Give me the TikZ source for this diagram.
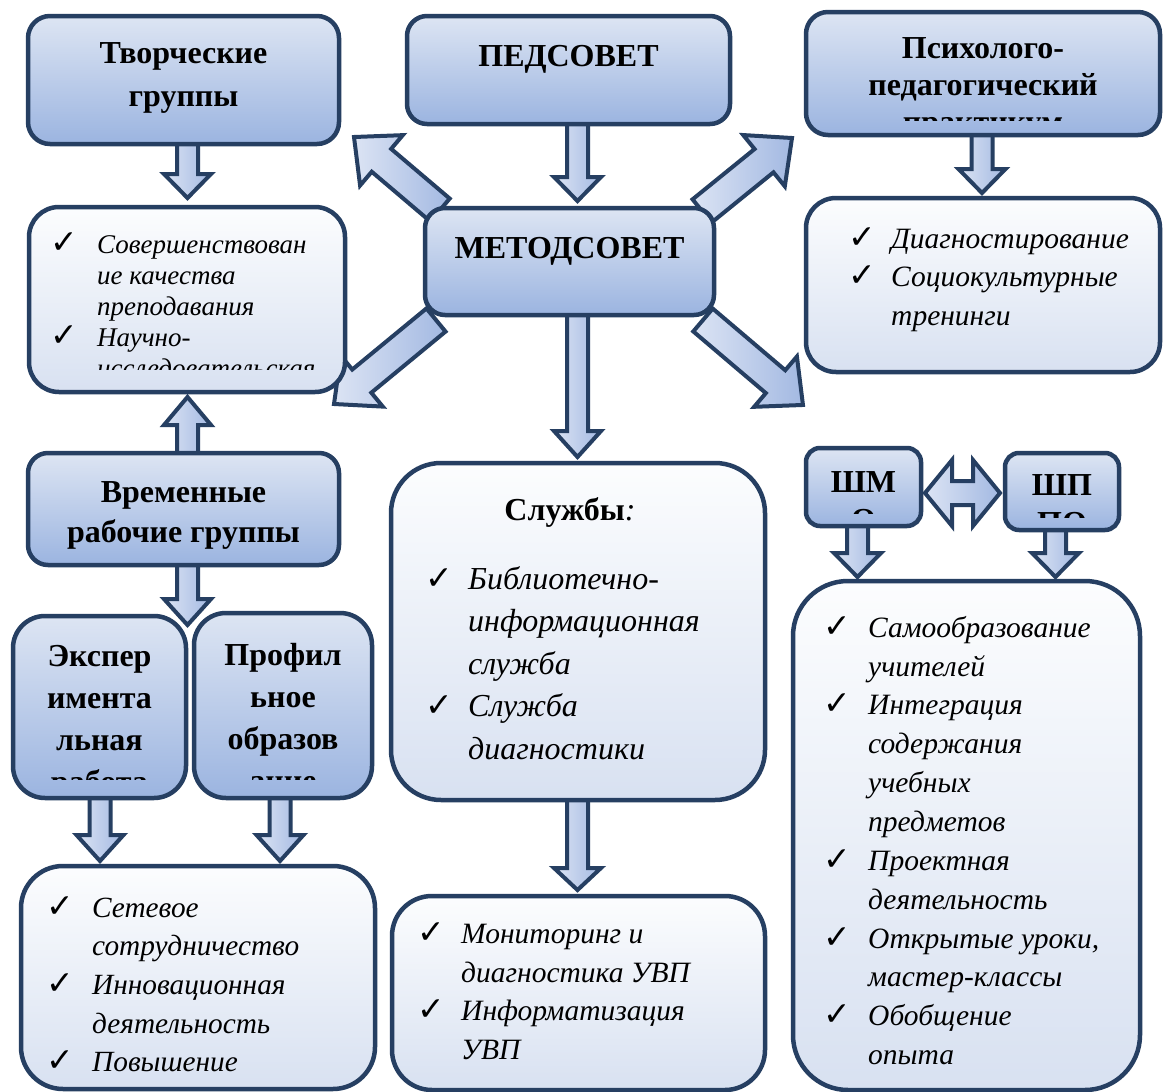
\documentclass[tikz,border=0pt]{standalone}
\usepackage{fontspec}
\setmainfont{Liberation Serif}
\newfontfamily\chkfont{DejaVu Sans}
\usetikzlibrary{calc}
\pgfdeclarelayer{bg}
\pgfsetlayers{bg,main}
\definecolor{bord}{HTML}{263F62}
\definecolor{htop}{HTML}{DDE5F3}
\definecolor{hbot}{HTML}{9BB4E0}
\definecolor{ltop}{HTML}{FCFDFE}
\definecolor{lbot}{HTML}{D8E1F1}
\definecolor{atop}{HTML}{DCE4F4}
\definecolor{abot}{HTML}{A3B9E2}
\tikzset{
 boxbase/.style={draw=bord, line width=4.5pt, inner sep=0pt, outer sep=0pt, rectangle},
 hdrbox/.style={boxbase, top color=htop, bottom color=hbot, rounded corners=#1},
 hdrbox/.default=20pt,
 lstbox/.style={boxbase, top color=ltop, bottom color=lbot, rounded corners=#1},
 lstbox/.default=30pt,
 blockarrow/.style={draw=bord, line width=4pt, left color=atop, right color=abot, line join=miter},
 htext/.style={font=\bfseries\fontsize{32}{#1}\selectfont, align=center, anchor=north, inner sep=0pt},
 ltext/.style 2 args={font=\itshape\fontsize{#1}{#2}\selectfont, align=left, anchor=north west, inner sep=0pt},
}
\newcommand\bx[6]{\node[#2, minimum width={(#5)-(#3)}, minimum height={(#6)-(#4)}] (#1) at ({((#3)+(#5))/2},{((#4)+(#6))/2}) {};}
% block arrow: from, to, shaft half width, head half width, head length
\newcommand\barrow[5]{%
 \path let \p1=(#1), \p2=(#2) in \pgfextra{%
   \pgfmathparse{atan2(\y2-\y1,\x2-\x1)}\xdef\baang{\pgfmathresult}%
   \pgfmathparse{veclen(\x2-\x1,\y2-\y1)}\xdef\balen{\pgfmathresult}%
   \pgfmathparse{\balen-#5}\xdef\babase{\pgfmathresult}};
 \draw[blockarrow, shift={(#1)}, rotate=\baang] (0pt,#3pt) -- (\babase pt,#3pt) -- (\babase pt,#4pt) -- (\balen pt,0pt) -- (\babase pt,-#4pt) -- (\babase pt,-#3pt) -- (0pt,-#3pt) -- cycle;
}
\newcommand\dbarrow[5]{%
 \path let \p1=(#1), \p2=(#2) in \pgfextra{%
   \pgfmathparse{atan2(\y2-\y1,\x2-\x1)}\xdef\baang{\pgfmathresult}%
   \pgfmathparse{veclen(\x2-\x1,\y2-\y1)}\xdef\balen{\pgfmathresult}%
   \pgfmathparse{\balen-#5}\xdef\babase{\pgfmathresult}};
 \draw[blockarrow, shift={(#1)}, rotate=\baang] (0pt,0pt) -- (#5pt,#4pt) -- (#5pt,#3pt) -- (\babase pt,#3pt) -- (\babase pt,#4pt) -- (\balen pt,0pt) -- (\babase pt,-#4pt) -- (\babase pt,-#3pt) -- (#5pt,-#3pt) -- (#5pt,-#4pt) -- cycle;
}
\newcommand\ck[1]{\makebox[#1pt][l]{\upshape\mdseries\chkfont\bfseries\fontsize{33}{33}\selectfont ✓}}
\newcommand\ind[1]{\hspace*{#1pt}}
\begin{document}
\begin{tikzpicture}[x=1pt,y=-1pt]
\useasboundingbox (0,0) rectangle (1163,1092);
\begin{pgfonlayer}{bg}
\fill[white] (0,0) rectangle (1163,1092);
\end{pgfonlayer}
% boxes
\bx{tg}{hdrbox=22pt}{28}{16}{339}{144}
\bx{ped}{hdrbox}{407}{16}{730}{124}
\bx{psy}{hdrbox=22pt}{806}{12}{1160}{135}
\bx{ll}{lstbox=30pt}{29}{207}{345}{392}
\bx{ms}{hdrbox}{425}{208}{714}{315}
\bx{rl}{lstbox=30pt}{806}{198}{1160}{372}
\bx{vr}{hdrbox}{28}{453}{339}{565}
\bx{sl}{lstbox=50pt}{391}{463}{765}{800}
\bx{shmo}{hdrbox=14pt}{806}{448}{921}{526}
\bx{shpo}{hdrbox=14pt}{1005}{453}{1119}{530}
\bx{exp}{hdrbox=32pt}{13}{616}{186}{798}
\bx{prof}{hdrbox=32pt}{194}{613}{372}{798}
\bx{bl}{lstbox=42pt}{21}{866}{375}{1089}
\bx{bm}{lstbox=40pt}{392}{896}{765}{1090}
\bx{rb}{lstbox=55pt}{793}{581}{1140}{1090}
% connector end points
\coordinate (a1s) at ($(tg.south)+(4,-10)$);
\coordinate (a1e) at ($(ll.north)+(0.5,-9)$);
\coordinate (a2s) at ($(ped.south)+(9,-10)$);
\coordinate (a2e) at ($(ms.north)+(8,-7)$);
\coordinate (a3s) at ($(psy.south)+(-1,-10)$);
\coordinate (a3e) at ($(rl.north)+(-1,-5)$);
\coordinate (a4s) at ($(ms.south)+(8,-10)$);
\coordinate (a4e) at ($(sl.north)+(-0.5,-6)$);
\coordinate (a5s) at ($(vr.north)+(4,10)$);
\coordinate (a5e) at ($(ll.south)+(0.5,5)$);
\coordinate (a6s) at ($(vr.south)+(4,-10)$);
\coordinate (a6e) at ($(exp.north east)+(1.5,9)$);
\coordinate (a7s) at ($(exp.south)+(0.5,-10)$);
\coordinate (a7e) at ($(exp.south |- bl.north)+(0.5,-5)$);
\coordinate (a8s) at ($(prof.south)+(-3,-10)$);
\coordinate (a8e) at ($(prof.south |- bl.north)+(-3,-5)$);
\coordinate (a9s) at ($(sl.south)+(-0.5,-10)$);
\coordinate (a9e) at ($(bm.north)+(-1,-6)$);
\coordinate (a10s) at ($(shmo.south)+(-6,-10)$);
\coordinate (a10e) at ($(shmo.south |- rb.north)+(-6,-4)$);
\coordinate (a11s) at ($(shpo.south)+(-6.5,-10)$);
\coordinate (a11e) at ($(shpo.south |- rb.north)+(-6.5,-4)$);
\coordinate (d1s) at ($(ms.north west)+(15,2)$);
\coordinate (d1e) at ($(tg.south east)+(15,-7)$);
\coordinate (d2s) at ($(ms.north east)+(-12,3)$);
\coordinate (d2e) at ($(psy.south west)+(-14,3)$);
\coordinate (d3s) at ($(ms.south west)+(11,5)$);
\coordinate (d3e) at ($(ll.south east)+(-11,12)$);
\coordinate (d4s) at ($(ms.south east)+(-11,5)$);
\coordinate (d4e) at ($(rl.south west)+(-3,33)$);
\coordinate (ws) at ($(shmo.east)+(4,6)$);
\coordinate (we) at ($(shpo.west)+(-5,1.5)$);
\begin{pgfonlayer}{bg}
\barrow{a1s}{a1e}{10.5}{23.5}{24}
\barrow{a2s}{a2e}{10.5}{23.5}{24}
\barrow{a3s}{a3e}{10.5}{23.5}{24}
\barrow{a4s}{a4e}{10.5}{23.5}{26}
\barrow{a5s}{a5e}{10.5}{23.5}{28}
\barrow{a6s}{a6e}{10.5}{23.5}{26}
\barrow{a7s}{a7e}{10.5}{23.5}{26}
\barrow{a8s}{a8e}{10.5}{23.5}{26}
\barrow{a9s}{a9e}{10.5}{23.5}{22}
\barrow{a10s}{a10e}{10.5}{23.5}{24}
\barrow{a11s}{a11e}{10.5}{23.5}{24}
\barrow{d1s}{d1e}{15}{33}{36}
\barrow{d2s}{d2e}{15}{33}{36}
\barrow{d3s}{d3e}{15}{33}{36}
\barrow{d4s}{d4e}{15}{33}{36}
\dbarrow{ws}{we}{12}{33}{27}
\end{pgfonlayer}
% header texts
\node[htext=43] (t-tg) at (183.5,32.9) {\strut Творческие\\группы};
\node[htext=43] (t-ped) at (568.5,35.9) {\strut ПЕДСОВЕТ};
\begin{scope}
\clip (806,12) rectangle (1160,120);
\node[htext=37] (t-psy) at (983,32.1) {\strut Психолого-\\педагогический\\практикум};
\end{scope}
\node[htext=43] (t-ms) at (569.5,227.9) {\strut МЕТОДСОВЕТ};
\node[htext=40] (t-vr) at (183.5,474) {\strut Временные\\рабочие группы};
\node[htext=43] (t-sl) at (570,489.9) {\strut Службы{\mdseries\itshape :}};
\begin{scope}
\clip (13,616) rectangle (186,779);
\node[htext=42] (t-exp) at (99.5,636.6) {\strut Экспер\\имента\\льная\\работа};
\end{scope}
\begin{scope}
\clip (194,613) rectangle (372,779);
\node[htext=42] (t-prof) at (283,635.6) {\strut Профил\\ьное\\образов\\ание};
\end{scope}
\begin{scope}
\clip (806,448) rectangle (921,513);
\node[htext=38] (t-shmo) at (863.5,465.4) {\strut ШМ\\О};
\end{scope}
\begin{scope}
\clip (1005,453) rectangle (1119,517);
\node[htext=38] (t-shpo) at (1062,468.4) {\strut ШП\\ПО};
\end{scope}
% list texts
\begin{scope}
\clip (29,207) rectangle (345,369);
\node[ltext={27}{31}] (t-ll) at (50,231.3) {\ck{47}\strut Совершенствован\\\ind{47}ие качества\\\ind{47}преподавания\\\ck{47}Научно-\\\ind{47}исследовательская};
\end{scope}
\node[ltext={29.5}{38.5}] (t-rl) at (848,221) {\ck{43}\strut Диагностирование\\\ck{43}Социокультурные\\\ind{43}тренинги};
\node[ltext={32}{42.5}] (t-sl2) at (425,559.3) {\ck{43}\strut Библиотечно-\\\ind{43}информационная\\\ind{43}служба\\\ck{43}Служба\\\ind{43}диагностики};
\node[ltext={29.3}{38.7}] (t-bl) at (46,889.9) {\ck{46}\strut Сетевое\\\ind{46}сотрудничество\\\ck{46}Инновационная\\\ind{46}деятельность\\\ck{46}Повышение};
\node[ltext={29.5}{38.6}] (t-bm) at (417,916.5) {\ck{44}\strut Мониторинг и\\\ind{44}диагностика УВП\\\ck{44}Информатизация\\\ind{44}УВП};
\node[ltext={29.5}{38.85}] (t-rb) at (823,609.8) {\ck{45}\strut Самообразование\\\ind{45}учителей\\\ck{45}Интеграция\\\ind{45}содержания\\\ind{45}учебных\\\ind{45}предметов\\\ck{45}Проектная\\\ind{45}деятельность\\\ck{45}Открытые уроки,\\\ind{45}мастер-классы\\\ck{45}Обобщение\\\ind{45}опыта};
\end{tikzpicture}
\end{document}
